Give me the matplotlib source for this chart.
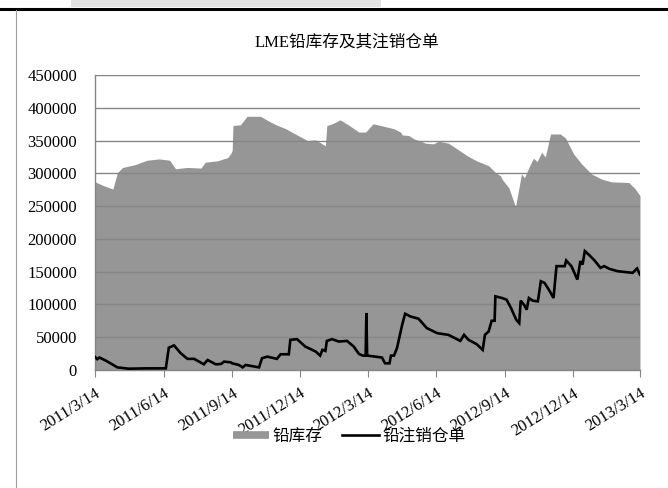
import matplotlib
matplotlib.use('Agg')
import matplotlib.pyplot as plt
import pandas as pd
from matplotlib.lines import Line2D
from matplotlib.patches import Rectangle

plt.rcParams['font.family'] = ['Liberation Serif', 'Noto Sans CJK SC']

# LME lead stocks (area)
stock_dates = [
    '2011-03-14', '2011-03-26', '2011-04-07', '2011-04-13', '2011-04-20', '2011-05-06',
    '2011-05-23', '2011-06-08', '2011-06-22', '2011-06-30', '2011-07-16', '2011-08-03',
    '2011-08-09', '2011-08-25', '2011-09-08', '2011-09-12', '2011-09-14', '2011-09-15',
    '2011-09-25', '2011-10-04', '2011-10-22', '2011-10-31', '2011-11-11', '2011-11-25',
    '2011-12-10', '2011-12-24', '2012-01-04', '2012-01-17', '2012-01-19', '2012-01-26',
    '2012-02-06', '2012-02-18', '2012-03-02', '2012-03-11', '2012-03-21', '2012-03-31',
    '2012-04-18', '2012-04-27', '2012-04-29', '2012-05-08', '2012-05-15', '2012-05-24',
    '2012-05-30', '2012-06-10', '2012-06-17', '2012-06-30', '2012-07-12', '2012-07-25',
    '2012-08-07', '2012-08-23', '2012-09-01', '2012-09-08', '2012-09-10', '2012-09-19',
    '2012-09-28', '2012-10-06', '2012-10-10', '2012-10-16', '2012-10-22', '2012-10-27',
    '2012-11-02', '2012-11-07', '2012-11-14', '2012-11-27', '2012-12-04', '2012-12-15',
    '2012-12-26', '2013-01-08', '2013-01-22', '2013-02-04', '2013-02-27', '2013-03-07',
    '2013-03-14',
]
stock_values = [
    287000, 281000, 276000, 301000, 309000, 313000,
    320000, 322000, 320000, 307000, 309000, 308000,
    317000, 319000, 324000, 330000, 335000, 373000,
    374000, 387000, 387000, 381000, 374500, 368000,
    358600, 350000, 351000, 342000, 373000, 375500,
    381600, 373000, 363000, 363000, 375500, 373000,
    368000, 362700, 358600, 357600, 352500, 349000,
    346000, 345000, 349000, 346000, 337000, 327000,
    319000, 311600, 301400, 296000, 291000, 278000,
    249000, 299000, 293000, 309000, 323000, 318000,
    332000, 325000, 360000, 360000, 354000, 329500,
    314000, 299000, 291000, 287000, 286000, 277000,
    266000,
]

# LME lead cancelled warrants (line)
cancel_dates = [
    '2011-03-14', '2011-03-17', '2011-03-20', '2011-03-29', '2011-04-07', '2011-04-13',
    '2011-04-28', '2011-05-23', '2011-06-17', '2011-06-21', '2011-06-28', '2011-07-07',
    '2011-07-16', '2011-07-25', '2011-08-07', '2011-08-12', '2011-08-23', '2011-08-30',
    '2011-09-03', '2011-09-12', '2011-09-14', '2011-09-23', '2011-09-28', '2011-10-02',
    '2011-10-20', '2011-10-24', '2011-10-31', '2011-11-13', '2011-11-18', '2011-11-29',
    '2011-12-01', '2011-12-10', '2011-12-21', '2012-01-04', '2012-01-10', '2012-01-13',
    '2012-01-17', '2012-01-19', '2012-01-26', '2012-02-04', '2012-02-15', '2012-02-24',
    '2012-03-02', '2012-03-07', '2012-03-11', '2012-03-12', '2012-03-13', '2012-03-24',
    '2012-04-02', '2012-04-06', '2012-04-12', '2012-04-14', '2012-04-18', '2012-04-22',
    '2012-04-29', '2012-05-03', '2012-05-10', '2012-05-21', '2012-06-01', '2012-06-15',
    '2012-06-30', '2012-07-16', '2012-07-21', '2012-07-27', '2012-08-07', '2012-08-15',
    '2012-08-18', '2012-08-23', '2012-08-27', '2012-08-31', '2012-09-01', '2012-09-10',
    '2012-09-16', '2012-09-22', '2012-09-29', '2012-10-03', '2012-10-05', '2012-10-10',
    '2012-10-13', '2012-10-16', '2012-10-21', '2012-10-28', '2012-11-01', '2012-11-06',
    '2012-11-13', '2012-11-18', '2012-11-22', '2012-12-03', '2012-12-05', '2012-12-12',
    '2012-12-20', '2012-12-24', '2012-12-27', '2012-12-30', '2013-01-05', '2013-01-12',
    '2013-01-20', '2013-01-25', '2013-02-01', '2013-02-12', '2013-03-04', '2013-03-10',
    '2013-03-14',
]
cancel_values = [
    20000, 16500, 19000, 14000, 8000, 4000,
    2000, 2500, 2500, 34000, 37500, 25500,
    17000, 17000, 8700, 15300, 8700, 9200,
    12800, 11700, 10200, 7700, 4000, 7700,
    4000, 17900, 20400, 17000, 24000, 24000,
    46000, 47000, 35800, 28100, 22000, 30700,
    29100, 44400, 47000, 43400, 44400, 35800,
    24500, 22000, 22000, 87000, 22000, 20400,
    18900, 10200, 10200, 22000, 22000, 33200,
    69000, 85800, 81700, 78200, 63900, 56200,
    53600, 44400, 53600, 46000, 39300, 30700,
    53600, 58800, 75100, 75100, 112400, 109800,
    107300, 94500, 76600, 71500, 105800, 98600,
    92000, 109800, 105800, 104700, 135400, 132800,
    120100, 109800, 158400, 158400, 167100, 158400,
    137900, 166100, 160900, 181400, 175200, 167100,
    155800, 158400, 154300, 150700, 148200, 154800,
    145600,
]

tick_dates = ['2011-03-14', '2011-06-14', '2011-09-14', '2011-12-14', '2012-03-14',
              '2012-06-14', '2012-09-14', '2012-12-14', '2013-03-14']
tick_labels = ['2011/3/14', '2011/6/14', '2011/9/14', '2011/12/14', '2012/3/14',
               '2012/6/14', '2012/9/14', '2012/12/14', '2013/3/14']
y_ticks = [0, 50000, 100000, 150000, 200000, 250000, 300000, 350000, 400000, 450000]

title = 'LME铅库存及其注销仓单'
stock_label = '铅库存'
cancel_label = '铅注销仓单'

area_color = '#969696'
grid_color = '#868686'

fig = plt.figure(figsize=(6.68, 4.88), dpi=100)

# page decoration around the chart (header strip, rule, left border)
fig.patches.append(Rectangle((71 / 668, 1 - 7 / 488), 310 / 668, 7 / 488,
                             transform=fig.transFigure, color='#e2e2e2', lw=0))
fig.lines.append(Line2D([0, 1], [1 - 9 / 488, 1 - 9 / 488], transform=fig.transFigure,
                        color='black', lw=2.2))
fig.lines.append(Line2D([16 / 668, 16 / 668], [0, 1 - 10 / 488], transform=fig.transFigure,
                        color='#a0a0a0', lw=0.8))

ax = fig.add_axes([95 / 668, 1 - 370 / 488, 545 / 668, 295 / 488])

sd = pd.to_datetime(stock_dates)
cd = pd.to_datetime(cancel_dates)
ax.fill_between(sd, stock_values, 0, color=area_color, lw=0, zorder=1)
ax.plot(cd, cancel_values, color='black', lw=1.9, zorder=3, solid_joinstyle='miter')

ax.set_xlim(pd.Timestamp(tick_dates[0]), pd.Timestamp(tick_dates[-1]))
ax.set_ylim(0, 450000)
ax.set_yticks(y_ticks)
ax.set_yticklabels([str(v) for v in y_ticks], fontsize=12)
ax.set_xticks(pd.to_datetime(tick_dates))
ax.set_xticklabels(tick_labels, rotation=32, ha='right', va='top',
                   rotation_mode='anchor', fontsize=12)

ax.yaxis.grid(True, color=grid_color, lw=1)
ax.set_axisbelow(False)
for s in ['top', 'right']:
    ax.spines[s].set_visible(False)
for s in ['left', 'bottom']:
    ax.spines[s].set_color(grid_color)
    ax.spines[s].set_linewidth(1)
ax.tick_params(axis='y', length=0, pad=13)
ax.tick_params(axis='x', length=5, color=grid_color, pad=6)

fig.text(347 / 668, 1 - 42 / 488, title, ha='center', va='center', fontsize=12)

handles = [Line2D([0], [0], color=area_color, lw=5.5, solid_capstyle='butt'),
           Line2D([0], [0], color='black', lw=1.9)]
fig.legend(handles, [stock_label, cancel_label], loc='center', ncol=2, frameon=False,
           bbox_to_anchor=(349 / 668, 1 - 437 / 488), fontsize=12, handlelength=2.2,
           handletextpad=0.2, columnspacing=1.2)

fig.savefig('out.png', dpi=100)
